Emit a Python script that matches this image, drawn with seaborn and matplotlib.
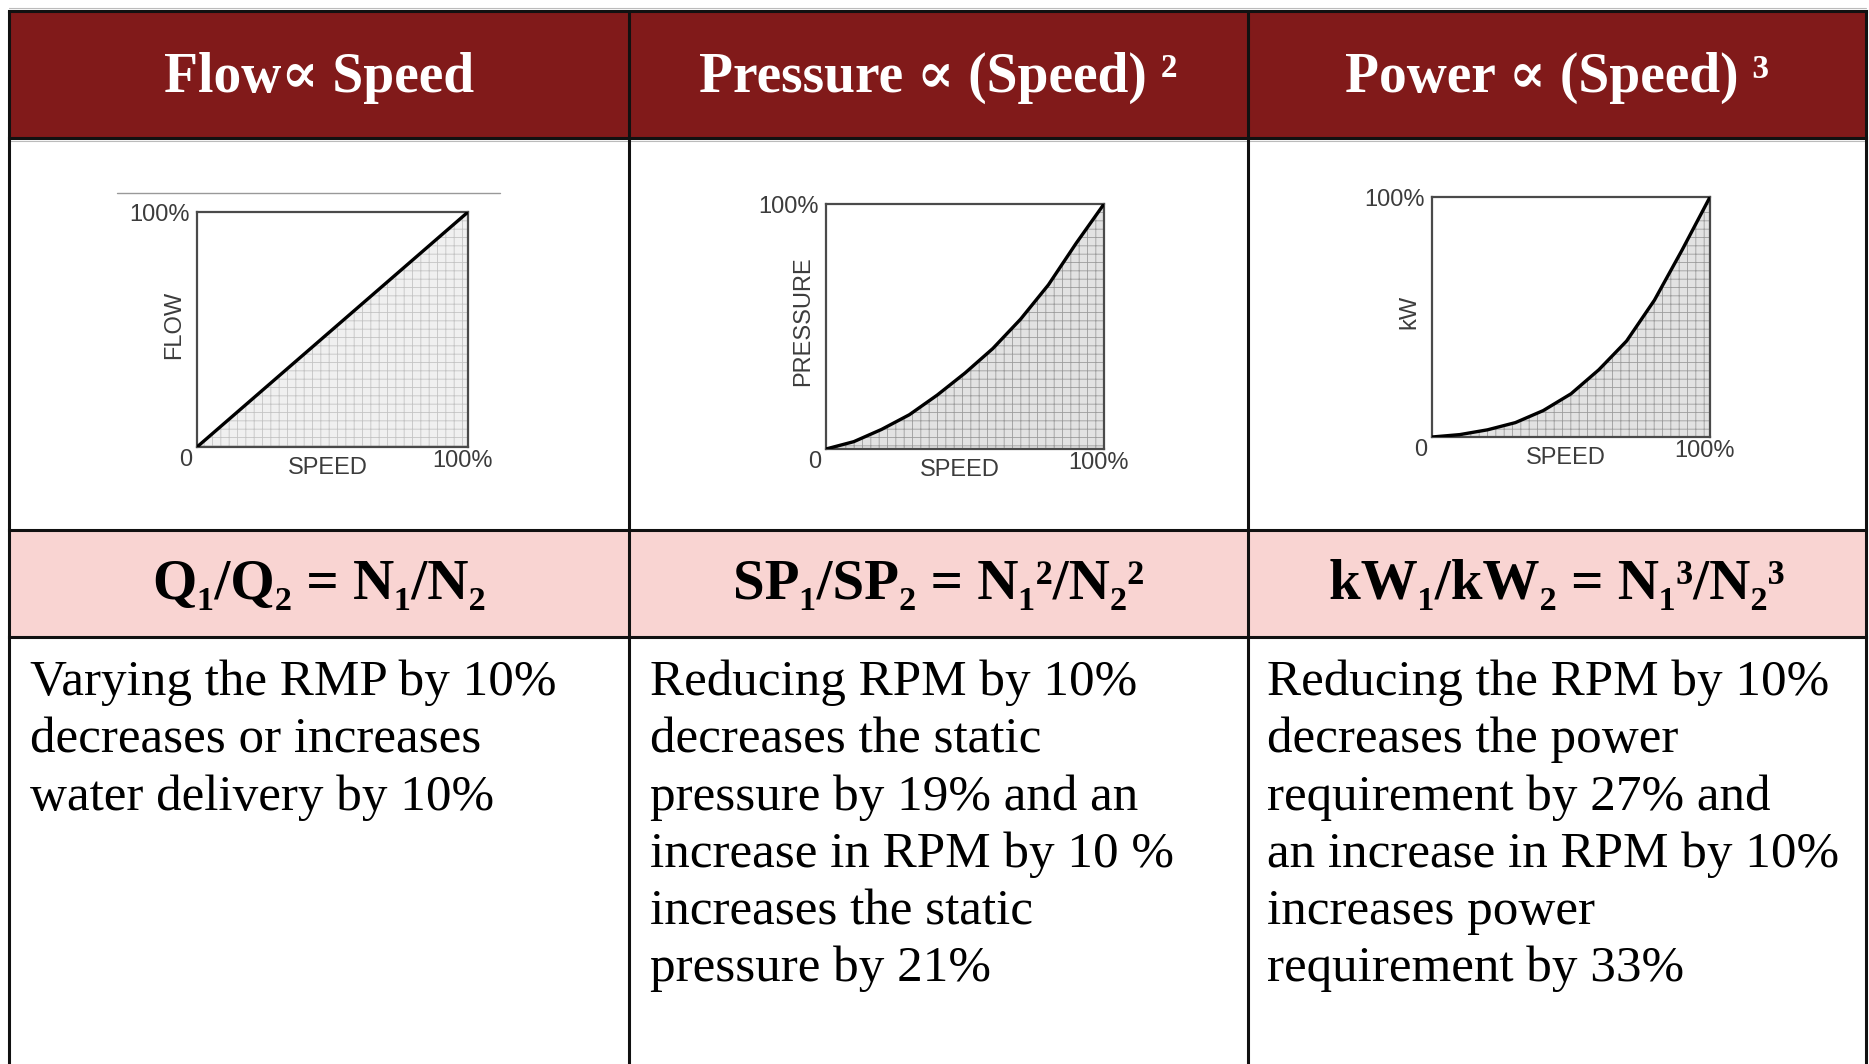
import numpy as np
import pandas as pd
import matplotlib
matplotlib.use("Agg")
import matplotlib.pyplot as plt
import seaborn as sns

# ---- data -------------------------------------------------------------
speed_pct = [0, 10, 20, 30, 40, 50, 60, 70, 80, 90, 100]
flow_pct = [0, 10, 20, 30, 40, 50, 60, 70, 80, 90, 100]
pressure_pct = [0, 3, 8, 14, 22, 31, 41, 53, 67, 84, 100]
power_pct = [0, 1, 3, 6, 11, 18, 28, 40, 57, 78, 100]

header_titles = ["Flow\u221d Speed", "Pressure \u221d (Speed) \u00b2", "Power \u221d (Speed) \u00b3"]
formulas = ["Q\u2081/Q\u2082 = N\u2081/N\u2082",
            "SP\u2081/SP\u2082 = N\u2081\u00b2/N\u2082\u00b2",
            "kW\u2081/kW\u2082 = N\u2081\u00b3/N\u2082\u00b3"]
y_labels = ["FLOW", "PRESSURE", "kW"]
x_label = "SPEED"
descriptions = [
    ["Varying the RMP by 10%", "decreases or increases", "water delivery by 10%"],
    ["Reducing RPM by 10%", "decreases the static", "pressure by 19% and an",
     "increase in RPM by 10 %", "increases the static", "pressure by 21%"],
    ["Reducing the RPM by 10%", "decreases the power", "requirement by 27% and",
     "an increase in RPM by 10%", "increases power", "requirement by 33%"],
]

# ---- styling ----------------------------------------------------------
sns.set_theme(style="white")
plt.rcParams["font.family"] = ["DejaVu Sans"]
plt.rcParams["hatch.linewidth"] = 0.6

W, H = 1869, 1064
DARK_RED = "#811a1a"
PINK = "#f9d4d2"
SERIF = ["Liberation Serif", "DejaVu Serif"]
SANS = ["Liberation Sans", "DejaVu Sans"]

fig = plt.figure(figsize=(W / 100, H / 100), dpi=100)
fig.patch.set_facecolor("white")

# background axes in pixel coordinates for the table
bg = fig.add_axes([0, 0, 1, 1])
bg.set_xlim(0, W)
bg.set_ylim(H, 0)
bg.axis("off")

cols = [9, 629, 1248, 1866]
y_top, y_head, y_chart, y_form = 11, 138, 530, 637

bg.add_patch(plt.Rectangle((cols[0], y_top), cols[-1] - cols[0], y_head - y_top,
                           facecolor=DARK_RED, edgecolor="none", zorder=1))
bg.add_patch(plt.Rectangle((cols[0], y_chart), cols[-1] - cols[0], y_form - y_chart,
                           facecolor=PINK, edgecolor="none", zorder=1))

lw = 2.2
for y in (y_top, y_head, y_chart, y_form):
    bg.plot([cols[0], cols[-1]], [y, y], color="#111111", lw=lw, zorder=3,
            solid_capstyle="projecting")
bg.plot([cols[0], cols[-1]], [y_top - 3, y_top - 3], color="#bbbbbb", lw=0.8, zorder=2)
bg.plot([cols[0], cols[-1]], [y_head + 3, y_head + 3], color="#bbbbbb", lw=0.8, zorder=2)
for x in cols:
    bg.plot([x, x], [y_top, H + 5], color="#111111", lw=lw, zorder=3)

centers = [(cols[i] + cols[i + 1]) / 2 for i in range(3)]

# header titles
for cx, t in zip(centers, header_titles):
    bg.text(cx, 78, t, ha="center", va="center", color="white", fontsize=40,
            fontweight="bold", family=SERIF + ["DejaVu Sans"], zorder=4)

# formula row
for cx, t in zip(centers, formulas):
    bg.text(cx, 585, t, ha="center", va="center", color="black", fontsize=41,
            fontweight="bold", family=SERIF, zorder=4)

# descriptions
text_x = [30, 650, 1267]
for tx, lines in zip(text_x, descriptions):
    for i, line in enumerate(lines):
        bg.text(tx, 695 + 57.3 * i, line, ha="left", va="baseline", color="black",
                fontsize=36.8, family=SERIF, zorder=4)

# faint rule above the first chart
bg.plot([117, 500], [193, 193], color="#999999", lw=1.0, zorder=2)

# ---- mini charts --------------------------------------------------------
boxes = [(197, 212, 468, 447), (826, 204, 1104, 449), (1432, 197, 1710, 437)]
series = [flow_pct, pressure_pct, power_pct]
fills = [("#f0f0f0", "#c4c4c4"), ("#e2e2e2", "#9c9c9c"), ("#e2e2e2", "#9c9c9c")]
LABEL_C = "#3c3c3c"

for (x0, y0, x1, y1), vals, ylab, (fc, hc) in zip(boxes, series, y_labels, fills):
    ax = fig.add_axes([x0 / W, 1 - y1 / H, (x1 - x0) / W, (y1 - y0) / H])
    df = pd.DataFrame({"speed": speed_pct, "value": vals})
    ax.fill_between(df["speed"], 0, df["value"], facecolor=fc, edgecolor=hc,
                    hatch="++", linewidth=0, zorder=1)
    sns.lineplot(data=df, x="speed", y="value", ax=ax, color="black", lw=2.4, zorder=3)
    ax.set_xlim(0, 100)
    ax.set_ylim(0, 100)
    ax.set_xticks([])
    ax.set_yticks([])
    ax.set_xlabel("")
    ax.set_ylabel("")
    ax.set_facecolor("white")
    for s in ax.spines.values():
        s.set_visible(True)
        s.set_color("#4a4a4a")
        s.set_linewidth(1.6)

    # axis annotations in pixel space
    fs = 17
    bg.text(x0 - 7, y0 + 3, "100%", ha="right", va="center", color=LABEL_C,
            fontsize=fs, family=SANS)
    bg.text(x0 - 11, y1 + 13, "0", ha="center", va="center", color=LABEL_C,
            fontsize=fs, family=SANS)
    bg.text(x1 - 6, y1 + 14, "100%", ha="center", va="center", color=LABEL_C,
            fontsize=fs, family=SANS)
    bg.text((x0 + x1) / 2 - 5, y1 + 21, x_label, ha="center", va="center",
            color=LABEL_C, fontsize=fs, family=SANS)
    bg.text(x0 - 23, (y0 + y1) / 2 - 5, ylab, ha="center", va="center", rotation=90,
            color=LABEL_C, fontsize=fs, family=SANS)

fig.savefig("out.png", dpi=100, facecolor="white")
